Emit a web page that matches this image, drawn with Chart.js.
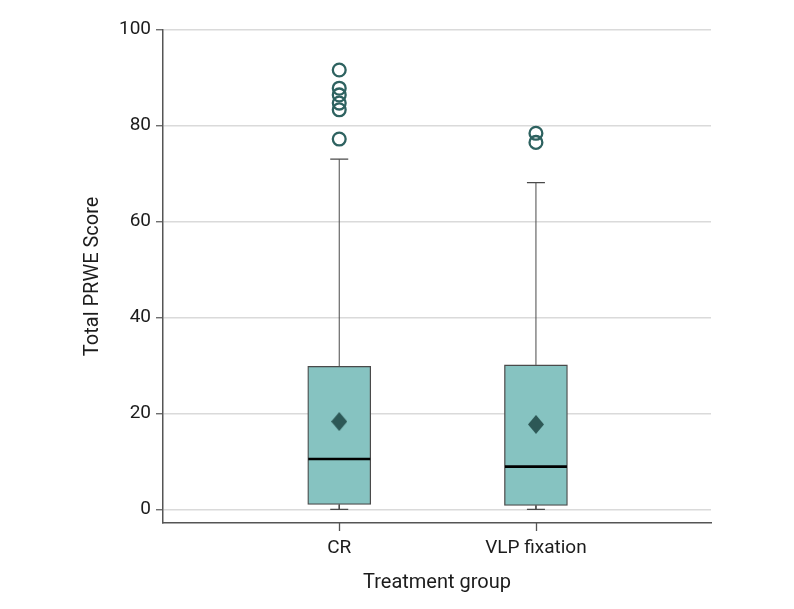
<!DOCTYPE html>
<html>
<head>
<meta charset="utf-8">
<script src="https://cdn.jsdelivr.net/npm/chart.js@4"></script>
<style>
  html, body { margin: 0; padding: 0; background: #ffffff; }
  #wrap { width: 794px; height: 609px; position: relative; }
</style>
</head>
<body>
<div id="wrap"><canvas id="c" width="794" height="609"></canvas></div>
<script>
// ---- data ----
const categories = ['CR', 'VLP fixation'];
const whiskerMin = [0, 0];
const q1 = [1.0, 0.8];
const median = [10.5, 8.9];
const q3 = [29.8, 30.1];
const whiskerMax = [73.0, 68.1];
const means = [18.3, 17.7];
const outliersCR = [91.6, 87.8, 86.4, 84.7, 83.3, 77.2];
const outliersVLP = [78.4, 76.5];
const yTicks = [0, 20, 40, 60, 80, 100];

// ---- derived datasets ----
const catPos = categories.map((_, i) => i + 1);
const boxData = catPos.map((x, i) => ({ x: x, y: [q1[i], q3[i]] }));
const medianData = catPos.map((x, i) => ({ x: x, y: median[i] }));
const meanData = catPos.map((x, i) => ({ x: x, y: means[i] }));
const capData = [];
const whiskerData = [];
catPos.forEach((x, i) => {
  capData.push({ x: x, y: whiskerMin[i] }, { x: x, y: whiskerMax[i] });
  whiskerData.push({ x: x, y: q3[i] }, { x: x, y: whiskerMax[i] }, { x: x, y: null },
                   { x: x, y: q1[i] }, { x: x, y: whiskerMin[i] }, { x: x, y: null });
});
const outlierData = [
  ...outliersCR.map(v => ({ x: 1, y: v })),
  ...outliersVLP.map(v => ({ x: 2, y: v }))
];

// diamond marker
const diamond = document.createElement('canvas');
diamond.width = 16; diamond.height = 19;
(function () {
  const g = diamond.getContext('2d');
  g.fillStyle = '#2d5856';
  g.beginPath();
  g.moveTo(8, 0); g.lineTo(16, 9.5); g.lineTo(8, 19); g.lineTo(0, 9.5);
  g.closePath(); g.fill();
})();

const FONT = 'Roboto';
const TEXT = '#1c1c1c';
const AXIS = '#555555';

// x-axis tick marks at the category positions (via the x scale)
const xTickMarks = {
  id: 'xTickMarks',
  afterDraw(chart) {
    const xs = chart.scales.x, g = chart.ctx;
    g.save();
    g.strokeStyle = AXIS; g.lineWidth = 1.3;
    catPos.forEach(v => {
      const px = Math.round(xs.getPixelForValue(v)) + 0.5;
      g.beginPath(); g.moveTo(px, xs.top); g.lineTo(px, xs.top + 8); g.stroke();
    });
    g.restore();
  }
};

new Chart(document.getElementById('c'), {
  type: 'bar',
  plugins: [xTickMarks],
  data: {
    datasets: [
      {
        type: 'bar', data: boxData, order: 6,
        backgroundColor: '#86c3c1', borderColor: '#4a4a4a', borderWidth: 1.3,
        borderSkipped: false, barThickness: 63
      },
      {
        type: 'line', data: whiskerData, order: 5, spanGaps: false,
        borderColor: '#4a4a4a', borderWidth: 1, pointRadius: 0, fill: false
      },
      {
        type: 'scatter', data: capData, order: 4,
        pointStyle: 'line', pointRadius: 9, pointBorderColor: '#4a4a4a', pointBorderWidth: 1.2
      },
      {
        type: 'scatter', data: medianData, order: 3,
        pointStyle: 'line', pointRadius: 31, pointBorderColor: '#000000', pointBorderWidth: 2.6
      },
      {
        type: 'scatter', data: meanData, order: 2,
        pointStyle: diamond, pointRadius: 9
      },
      {
        type: 'scatter', data: outlierData, order: 1,
        pointStyle: 'circle', pointRadius: 6.4, pointBorderWidth: 2.3,
        pointBorderColor: '#2e6260', pointBackgroundColor: 'rgba(0,0,0,0)'
      }
    ]
  },
  options: {
    responsive: false,
    animation: false,
    devicePixelRatio: 1,
    layout: { autoPadding: false, padding: { left: 75, right: 83, top: 29.7, bottom: 14 } },
    plugins: { legend: { display: false }, tooltip: { enabled: false } },
    scales: {
      x: {
        type: 'linear',
        offset: false,
        min: 0.104, max: 2.89,
        afterBuildTicks: (s) => { s.ticks = catPos.map(v => ({ value: v })); },
        afterFit: (s) => { s.height = 72; },
        grid: { display: false, offset: false, tickLength: 8 },
        border: { display: true, color: AXIS, width: 1.5 },
        ticks: {
          padding: 5.5, color: TEXT, font: { family: FONT, size: 19 },
          callback: (v) => categories[Math.round(v) - 1] || ''
        },
        title: { display: true, text: 'Treatment group', color: TEXT, font: { family: FONT, size: 20 }, padding: 0 }
      },
      y: {
        type: 'linear',
        min: -2.86, max: 100,
        afterBuildTicks: (s) => { s.ticks = yTicks.map(v => ({ value: v })); },
        afterFit: (s) => { s.width = 88; },
        grid: { color: '#dadada', lineWidth: 1.5, drawTicks: true, tickLength: 7, tickColor: AXIS, tickWidth: 1.2 },
        border: { color: AXIS, width: 1.5 },
        ticks: { padding: 5, color: TEXT, font: { family: FONT, size: 19 } },
        title: { display: true, text: 'Total PRWE Score', color: TEXT, font: { family: FONT, size: 20 }, padding: { top: 6, bottom: 0 } }
      }
    }
  }
});
</script>
</body>
</html>
